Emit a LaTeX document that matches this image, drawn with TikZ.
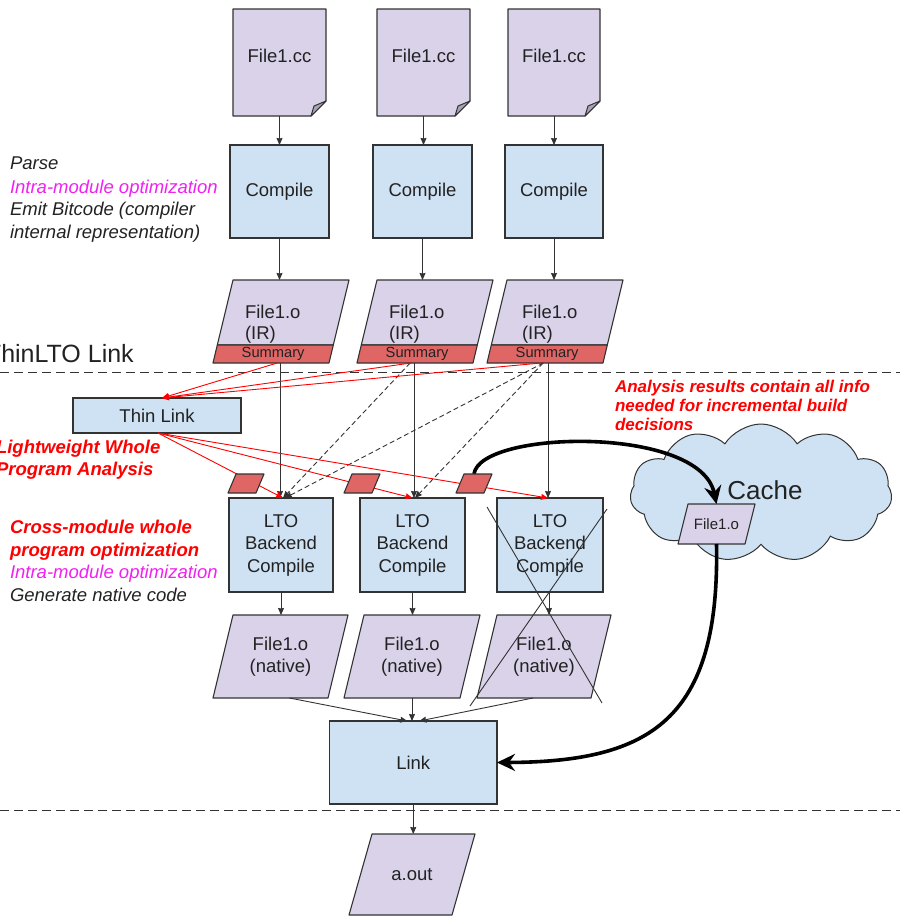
\documentclass[tikz,border=0pt]{standalone}
\usepackage{fontspec}
\setmainfont{Liberation Sans}
\usetikzlibrary{arrows.meta,shapes.symbols}
\definecolor{lav}{HTML}{D9D2E9}
\definecolor{boxblue}{HTML}{CFE2F3}
\definecolor{sumred}{HTML}{E06666}
\definecolor{linec}{HTML}{333333}
\definecolor{txt}{HTML}{222222}
\definecolor{foldc}{HTML}{A9A3B8}
\definecolor{redt}{HTML}{FF0000}
\definecolor{magt}{HTML}{F020F0}
\pgfdeclarelayer{back}\pgfdeclarelayer{bg}\pgfdeclarelayer{fg}
\pgfsetlayers{back,bg,main,fg}
\newcommand\drawpara[4]{%
  \begin{pgfonlayer}{#1}
  \filldraw[fill=#4, draw=linec, line width=1.1pt, line join=round]
    ([xshift=#3pt]#2.north west) -- (#2.north east) -- ([xshift=-#3pt]#2.south east) -- (#2.south west) -- cycle;
  \end{pgfonlayer}}
\newcommand\drawdoc[1]{%
  \begin{pgfonlayer}{bg}
  \filldraw[fill=lav, draw=linec, line width=1.1pt, line join=round]
    (#1.north west) -- (#1.north east) -- ([yshift=15pt]#1.south east) -- ([xshift=-15pt]#1.south east) -- (#1.south west) -- cycle;
  \filldraw[fill=foldc, draw=linec, line width=1pt, line join=round]
    ([yshift=15pt]#1.south east) -- ([xshift=-15pt]#1.south east) -- ([xshift=-12pt,yshift=10pt]#1.south east) -- cycle;
  \end{pgfonlayer}}
\tikzset{
  every node/.style={inner sep=0pt, outer sep=0pt, text=txt},
  fnt/.style={font=\fontsize{18.5}{22.5}\selectfont},
  bluebox/.style={fnt, draw=linec, fill=boxblue, line width=1.1pt, align=center},
  frame/.style={fnt, align=center},
  arr/.style={draw=linec, line width=0.9pt, -{Stealth[length=7pt,width=6pt,inset=0.5pt]}},
  redarr/.style={draw=redt, line width=0.9pt, -{Stealth[length=7pt,width=6pt,inset=0.5pt]}},
  dasharr/.style={draw=linec, line width=0.9pt, dash pattern=on 5pt off 3pt, -{Stealth[length=7pt,width=6pt,inset=0.5pt]}},
  bigarr/.style={draw=black, line width=3.6pt, -{Stealth[length=18pt,width=17pt,inset=6pt]}},
  sepline/.style={draw=linec, line width=1pt, dash pattern=on 9pt off 5pt},
  lefttxt/.style={anchor=base west, font=\fontsize{18.5}{22.5}\selectfont\itshape},
  redbold/.style={anchor=base west, text=redt, font=\fontsize{18.5}{22.5}\selectfont\bfseries\itshape},
  crossline/.style={draw=linec, line width=0.9pt},
}
\begin{document}
\begin{tikzpicture}[x=1pt,y=-1pt]
\useasboundingbox (0,0) rectangle (900,916);
\clip (0,0) rectangle (900,916);

% separators
\draw[sepline] (0,372) -- (900,372);
\draw[sepline] (0,810) -- (900,810);

% source documents
\node[frame, minimum width=93pt, minimum height=107pt] (d1) at (279.5,62.5) {\raisebox{7pt}[\height][\depth]{File1.cc}};
\node[frame, minimum width=93pt, minimum height=107pt] (d2) at (423.5,62.5) {\raisebox{7pt}[\height][\depth]{File1.cc}};
\node[frame, minimum width=92pt, minimum height=107pt] (d3) at (554,62.5) {\raisebox{7pt}[\height][\depth]{File1.cc}};
\drawdoc{d1}\drawdoc{d2}\drawdoc{d3}

% compile
\node[bluebox, minimum width=99pt, minimum height=93pt] (c1) at (279.5,191.5) {Compile};
\node[bluebox, minimum width=99pt, minimum height=93pt] (c2) at (422.5,191.5) {Compile};
\node[bluebox, minimum width=98pt, minimum height=93pt] (c3) at (554,191.5) {Compile};

% IR objects
\node[minimum width=131.7pt, minimum height=65pt] (ir1) at (283.15,312.5) {};
\node[minimum width=131.7pt, minimum height=65pt] (ir2) at (427.15,312.5) {};
\node[minimum width=131.7pt, minimum height=65pt] (ir3) at (557.15,312.5) {};
\drawpara{bg}{ir1}{15.7}{lav}\drawpara{bg}{ir2}{15.7}{lav}\drawpara{bg}{ir3}{15.7}{lav}
\node[font=\fontsize{14.7}{16}\selectfont, minimum width=120.3pt, minimum height=18pt] (s1) at (273.15,354) {Summary};
\node[font=\fontsize{14.7}{16}\selectfont, minimum width=120.3pt, minimum height=18pt] (s2) at (417.15,354) {Summary};
\node[font=\fontsize{14.7}{16}\selectfont, minimum width=120.3pt, minimum height=18pt] (s3) at (547.15,354) {Summary};
\drawpara{bg}{s1}{4.3}{sumred}\drawpara{bg}{s2}{4.3}{sumred}\drawpara{bg}{s3}{4.3}{sumred}
\node[fnt, anchor=base west] (ia1) at (245,318.5) {File1.o};
\node[fnt, anchor=base west] (ib1) at (245,339.5) {(IR)};
\node[fnt, anchor=base west] (ia2) at (389,318.5) {File1.o};
\node[fnt, anchor=base west] (ib2) at (389,339.5) {(IR)};
\node[fnt, anchor=base west] (ia3) at (522,318.5) {File1.o};
\node[fnt, anchor=base west] (ib3) at (522,339.5) {(IR)};

% thin link
\node[bluebox, minimum width=168pt, minimum height=35pt] (tl) at (157,415.5) {Thin Link};

% small red parallelograms
\node[minimum width=36pt, minimum height=19pt] (sp1) at (246,483.5) {};
\node[minimum width=36pt, minimum height=19pt] (sp2) at (362,483.5) {};
\node[minimum width=36pt, minimum height=19pt] (sp3) at (474,483.5) {};
\drawpara{fg}{sp1}{8}{sumred}\drawpara{fg}{sp2}{8}{sumred}\drawpara{fg}{sp3}{8}{sumred}

% LTO backends
\node[bluebox, minimum width=104pt, minimum height=94pt] (l1) at (281,545) {LTO\\Backend\\Compile};
\node[bluebox, minimum width=105pt, minimum height=94pt] (l2) at (412.5,545) {LTO\\Backend\\Compile};
\node[bluebox, minimum width=106pt, minimum height=94pt] (l3) at (550,545) {LTO\\Backend\\Compile};

% native objects
\node[frame, minimum width=135pt, minimum height=83pt] (n1) at (280.5,656.5) {File1.o\\(native)};
\node[frame, minimum width=136pt, minimum height=83pt] (n2) at (412,656.5) {File1.o\\(native)};
\node[frame, minimum width=134pt, minimum height=83pt] (n3) at (544,656.5) {File1.o\\(native)};
\drawpara{bg}{n1}{20}{lav}\drawpara{bg}{n2}{20}{lav}\drawpara{bg}{n3}{20}{lav}

% link and output
\node[bluebox, minimum width=167.5pt, minimum height=83pt] (link) at (413.25,762.5) {Link};
\node[frame, minimum width=126pt, minimum height=81pt] (aout) at (412,874.5) {a.out};
\drawpara{bg}{aout}{23}{lav}

% cache
\begin{pgfonlayer}{back}
\node[cloud, cloud puffs=11, cloud puff arc=115, aspect=1.9, draw=linec, fill=boxblue, line width=1pt,
      minimum width=262pt, minimum height=138pt, font=\fontsize{26}{30}\selectfont] (cache) at (761,493)
      {\hspace*{8pt}\raisebox{3pt}[\height][\depth]{Cache}};
\end{pgfonlayer}
\node[font=\fontsize{15}{17}\selectfont, minimum width=77pt, minimum height=40pt] (cf) at (716.5,524) {File1.o};
\drawpara{bg}{cf}{10}{lav}

% connectors
\draw[arr] (d1.south) -- (d1.south |- c1.north);
\draw[arr] (d2.south) -- (d2.south |- c2.north);
\draw[arr] (d3.south) -- (d3.south |- c3.north);
\draw[arr] (c1.south) -- (c1.south |- ir1.north);
\draw[arr] (c2.south) -- (c2.south |- ir2.north);
\draw[arr] (c3.south) -- (c3.south |- ir3.north);

\draw[arr] ([xshift=-1pt]l1.north |- s1.south) -- ([xshift=-1pt]l1.north);
\draw[arr] ([xshift=1.5pt]l2.north |- s2.south) -- ([xshift=1.5pt]l2.north);
\draw[arr] ([xshift=-2pt]l3.north |- s3.south) -- ([xshift=-2pt]l3.north);

\draw[dasharr] ([xshift=-7pt]s2.south) -- ([xshift=2pt]l1.north);
\draw[dasharr] ([xshift=-4pt]s3.south) -- ([xshift=4pt]l1.north);
\draw[dasharr] ([xshift=-4pt]s3.south) -- ([xshift=2.5pt]l2.north);

\draw[redarr] ([xshift=4pt]s1.south) -- ([xshift=5pt]tl.north);
\draw[redarr] ([xshift=-6pt]s2.south) -- ([xshift=5pt]tl.north);
\draw[redarr] ([xshift=-6pt]s3.south) -- ([xshift=5pt]tl.north);
\draw[redarr] ([xshift=1pt]tl.south) -- ([xshift=2pt]l1.north);
\draw[redarr] ([xshift=1pt]tl.south) -- (l2.north);
\draw[redarr] ([xshift=1pt]tl.south) -- ([xshift=-2pt]l3.north);

\draw[arr] (l1.south) -- (l1.south |- n1.north);
\draw[arr] (l2.south) -- (l2.south |- n2.north);
\draw[arr] ([xshift=-1pt]l3.south) -- ([xshift=-1pt]l3.south |- n3.north);

\draw[arr] ([xshift=9pt]n1.south) -- ([xshift=-6pt]link.north);
\draw[arr] (n2.south) -- (n2.south |- link.north);
\draw[arr] ([xshift=-11pt]n3.south) -- ([xshift=6pt]link.north);
\draw[arr] (link.south) -- (link.south |- aout.north);

% cross-out
\draw[crossline] (487,507) -- (602,703);
\draw[crossline] (607,509) -- (470,706);

% cache arrows
\draw[bigarr] (sp3.north) .. controls (480,430) and (700,425) .. (cf.north);
\draw[bigarr] (cf.south) .. controls (720,720) and (650,762) .. (link.east);

% side texts
\node[lefttxt] (p1) at (10,169) {Parse};
\node[lefttxt, text=magt] (p2) at (10,193) {Intra-module optimization};
\node[lefttxt] (p3) at (10,215) {Emit Bitcode (compiler};
\node[lefttxt] (p4) at (10,238) {internal representation)};

\node[anchor=base west, font=\fontsize{25}{28}\selectfont] (thinlto) at (-14,362) {ThinLTO Link};

\node[redbold] (lw1) at (-4,453) {Lightweight Whole};
\node[redbold] (lw2) at (-4,475) {Program Analysis};

\node[redbold] (x1) at (10,533) {Cross-module whole};
\node[redbold] (x2) at (10,556) {program optimization};
\node[lefttxt, text=magt] (x3) at (10,578) {Intra-module optimization};
\node[lefttxt] (x4) at (10,601) {Generate native code};

\node[anchor=base west, text=redt, font=\fontsize{17}{19}\selectfont\bfseries\itshape] (an1) at (615,392) {Analysis results contain all info};
\node[anchor=base west, text=redt, font=\fontsize{17}{19}\selectfont\bfseries\itshape] (an2) at (615,411) {needed for incremental build};
\node[anchor=base west, text=redt, font=\fontsize{17}{19}\selectfont\bfseries\itshape] (an3) at (615,430) {decisions};
\end{tikzpicture}
\end{document}
